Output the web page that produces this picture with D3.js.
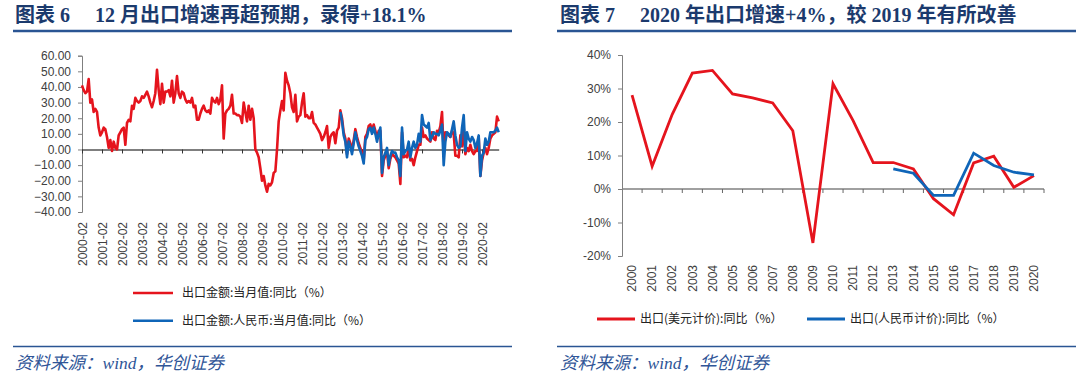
<!DOCTYPE html>
<html>
<head>
<meta charset="utf-8">
<script src="https://cdn.jsdelivr.net/npm/d3@7"></script>
<style>
  body { margin: 0; background: #fff; }
  svg { display: block; }
</style>
</head>
<body>
<svg width="1080" height="380"></svg>
<script>
// ---- data ----
// chart 6: monthly export yoy (%), usd series starts 2000-02, rmb series starts 2013-01
const usdStartYear = 2000, usdStartMonth = 2;
const rmbStartYear = 2013, rmbStartMonth = 1;
const usdMonthly = [
  41, 38, 36, 37, 45, 30, 32, 24, 26, 24, 14,          // 2000 feb-dec
  9, 11, 14, 13, 8, 1, 6, -1, 5, 1, 0, 9,               // 2001
  11, 13, 14, 3, 17, 19, 18, 28, 26, 33, 31, 30,        // 2002
  31, 34, 33, 35, 37, 34, 30, 27, 31, 36, 51, 38,       // 2003
  29, 42, 30, 37, 37, 38, 34, 44, 30, 36, 47, 36,       // 2004
  33, 37, 36, 32, 30, 31, 30, 33, 27, 28, 19, 19,       // 2005
  23, 26, 28, 25, 24, 25, 23, 33, 31, 30, 33, 29,       // 2006
  32, 41, 7, 23, 25, 26, 28, 35, 23, 23, 22, 22,        // 2007
  21, 17, 30, 24, 18, 28, 19, 26, 20, 0, -2, -5,        // 2008
  -12, -20, -17, -23, -27, -22, -23, -21, -15, -14, 0, 18, // 2009
  25, 31, 25, 49, 44, 41, 36, 27, 24, 35, 18, 21,       // 2010
  22, 30, 36, 21, 22, 20, 20, 24, 17, 16, 14, 12,       // 2011
  10, 6, 8, 11, 15, 1, 8, 10, 11, 4, 12, 14,            // 2012
  25, 20, 11, 7, -3, 7, 4, -1, 6, 13, 8, 4,             // 2013
  1, -2, -7, 8, 10, 15, 16, 12, 16, 12, 7, 12,          // 2014
  12, -17, -7, -4, -1, -12, -6, -3, -4, -5, -7, -9,     // 2015
  -22, 11, -5, -4, -5, 2, -7, -6, -10, -5, -1, 3,       // 2016
  3, 14, 8, 9, 7, 6, 5, 11, 7, 6, 12, 11,               // 2017
  15, 24, -2, 11, 10, 9, 8, 12, 10, -4, -4, -5,         // 2018
  9, 2, 14, -3, 1, -1, 3, -1, -3, -1, -1, 8,            // 2019
  -17, -7, -2, 1, -3, 1, 7, 9, 10, 11, 21, 18           // 2020
];
const rmbMonthly = [
  24, 18, 9, 5, -5, 5, 2, -3, 4, 11, 6, 2,              // 2013
  -1, -4, -9, 6, 8, 13, 14, 10, 14, 10, 5, 10,          // 2014
  14, -15, -5, -2, 1, -10, -4, -1, -2, -2, -5, -7,      // 2015
  -17, 14, -3, -1, 0, 5, -5, 1, 5, 1, 3, 10,            // 2016
  5, 22, 16, 15, 14, 17, 6, 8, 11, 10, 10, 9,           // 2017
  12, 16, -10, 5, 11, 10, 8, 13, 18, 9, 3, 1,           // 2018
  2, 14, 22, -1, 11, 7, 5, 8, 6, 1, 4, 9,               // 2019
  -17, -4, -2, 7, 3, 5, 11, 11, 11, 12, 14, 11          // 2020
];
const leftYTicks = [-40, -30, -20, -10, 0, 10, 20, 30, 40, 50, 60];
const leftXTickLabels = ["2000-02", "2001-02", "2002-02", "2003-02", "2004-02", "2005-02", "2006-02",
  "2007-02", "2008-02", "2009-02", "2010-02", "2011-02", "2012-02", "2013-02", "2014-02",
  "2015-02", "2016-02", "2017-02", "2018-02", "2019-02", "2020-02"];
const leftSeriesNames = ["出口金额:当月值:同比（%）", "出口金额:人民币:当月值:同比（%）"];

// chart 7: yearly export yoy (%)
const years = ["2000", "2001", "2002", "2003", "2004", "2005", "2006", "2007", "2008", "2009", "2010",
  "2011", "2012", "2013", "2014", "2015", "2016", "2017", "2018", "2019", "2020"];
const usdYearly = [28.0, 6.8, 22.3, 34.6, 35.4, 28.4, 27.2, 25.7, 17.4, -16.1, 31.4,
  20.4, 7.9, 7.9, 6.0, -2.9, -7.7, 7.8, 9.8, 0.5, 4.0];
const rmbYears = ["2013", "2014", "2015", "2016", "2017", "2018", "2019", "2020"];
const rmbYearly = [6.0, 4.7, -1.9, -1.9, 10.7, 7.0, 5.0, 4.2];
const rightYTicks = [-20, -10, 0, 10, 20, 30, 40];
const rightSeriesNames = ["出口(美元计价):同比（%）", "出口(人民币计价):同比（%）"];

const titles = ["图表 6     12 月出口增速再超预期，录得+18.1%", "图表 7     2020 年出口增速+4%，较 2019 年有所改善"];
const sourceText = "资料来源：wind，华创证券";

// ---- styles ----
const RED = "#e5141d", BLUE = "#0f65b8", NAVY = "#1b3a6d", RULE = "#2a5593";
const AXIS = "#7f7f7f", LABEL = "#404040";
const latinFont = "'Liberation Sans', Arial, 'Noto Sans CJK SC', sans-serif";
const cjkFont = "'Noto Sans CJK SC', 'Liberation Sans', sans-serif";

const svg = d3.select("svg");

// month index counted from 2000-02
const monthIndex = (yr, mo) => (yr - usdStartYear) * 12 + (mo - usdStartMonth);
const usdData = usdMonthly.map((v, i) => ({ m: i, v: v }));
const rmbOffset = monthIndex(rmbStartYear, rmbStartMonth);
const rmbData = rmbMonthly.map((v, i) => ({ m: rmbOffset + i, v: v }));

// ---- headers and footers for both panels ----
const panels = [
  { x0: 13, x1: 512, tx: 15 },
  { x0: 557, x1: 1076, tx: 560 }
];
panels.forEach((p, i) => {
  svg.append("text")
    .attr("x", p.tx).attr("y", 22)
    .style("white-space", "pre")
    .style("font-family", "'Liberation Serif', 'Noto Sans CJK SC', serif")
    .style("font-weight", "bold")
    .style("font-size", "20px")
    .attr("fill", NAVY)
    .text(titles[i]);
  svg.append("line")
    .attr("x1", p.x0).attr("x2", p.x1).attr("y1", 31).attr("y2", 31)
    .attr("stroke", RULE).attr("stroke-width", 2.5);
  svg.append("line")
    .attr("x1", p.x0).attr("x2", p.x1).attr("y1", 346.5).attr("y2", 346.5)
    .attr("stroke", RULE).attr("stroke-width", 1.5);
  svg.append("text")
    .attr("x", p.tx).attr("y", 369)
    .style("font-family", "'Liberation Serif', 'Noto Sans CJK SC', serif")
    .style("font-style", "italic")
    .style("font-size", "17.5px")
    .attr("fill", "#2f5597")
    .text(sourceText);
});

// ---- chart 6 ----
const x = d3.scaleLinear().domain([0, usdMonthly.length - 1]).range([82, 498.7]);
const y = d3.scaleLinear().domain([-40, 60]).range([212, 55.7]);

const yAxis = svg.append("g")
  .attr("transform", "translate(82,0)")
  .call(d3.axisLeft(y).tickValues(leftYTicks).tickFormat(d3.format(".2f")).tickSize(4).tickPadding(7));
yAxis.selectAll("path, line").attr("stroke", AXIS);
yAxis.selectAll("text").style("font-family", latinFont).style("font-size", "12px").attr("fill", LABEL);

const xTickVals = leftXTickLabels.map(s => monthIndex(+s.slice(0, 4), +s.slice(5)));
const zeroAxis = svg.append("g")
  .attr("transform", `translate(0,${y(0)})`)
  .call(d3.axisBottom(x).tickValues(xTickVals).tickSize(4).tickSizeOuter(0).tickFormat(""));
zeroAxis.select(".domain").attr("stroke", "#000").attr("stroke-width", 1.2);
zeroAxis.selectAll("line").attr("stroke", "#333");

const xLabels = svg.append("g")
  .attr("transform", `translate(0,${y(-40)})`)
  .call(d3.axisBottom(x).tickValues(xTickVals).tickSize(0)
    .tickFormat((d, i) => leftXTickLabels[i]));
xLabels.select(".domain").remove();
xLabels.selectAll("text")
  .attr("transform", "rotate(-90)")
  .attr("text-anchor", "end")
  .attr("x", -10).attr("y", 0).attr("dy", "0.35em")
  .style("font-family", latinFont).style("font-size", "12px").attr("fill", LABEL);

const line = d3.line().x(d => x(d.m)).y(d => y(d.v));
svg.append("path").datum(usdData)
  .attr("fill", "none").attr("stroke", RED).attr("stroke-width", 2.6)
  .attr("stroke-linejoin", "round").attr("d", line);
svg.append("path").datum(rmbData)
  .attr("fill", "none").attr("stroke", BLUE).attr("stroke-width", 2.6)
  .attr("stroke-linejoin", "round").attr("d", line);

// legend, stacked
const leftLegend = svg.append("g").selectAll("g")
  .data(leftSeriesNames).join("g")
  .attr("transform", (d, i) => `translate(133,${293 + i * 27.7})`);
leftLegend.append("line")
  .attr("x1", 0).attr("x2", 40)
  .attr("stroke", (d, i) => i ? BLUE : RED).attr("stroke-width", 2.6);
leftLegend.append("text")
  .attr("x", 49).attr("dy", "0.35em")
  .style("font-family", cjkFont).style("font-size", "12px").attr("fill", "#222")
  .text(d => d);

// ---- chart 7 ----
const xb = d3.scaleBand().domain(years).range([622, 1044]);
const y2 = d3.scaleLinear().domain([-20, 40]).range([256, 55]);

const y2Axis = svg.append("g")
  .attr("transform", "translate(622,0)")
  .call(d3.axisLeft(y2).tickValues(rightYTicks).tickFormat(d => d + "%").tickSize(4).tickPadding(7));
y2Axis.selectAll("path, line").attr("stroke", AXIS);
y2Axis.selectAll("text").style("font-family", latinFont).style("font-size", "12px").attr("fill", LABEL);

const zero2 = svg.append("g").attr("transform", `translate(0,${y2(0)})`);
zero2.append("line")
  .attr("x1", xb.range()[0]).attr("x2", xb.range()[1])
  .attr("stroke", "#808080").attr("stroke-width", 1.5);
zero2.selectAll(".tk").data(years).join("line")
  .attr("class", "tk")
  .attr("x1", d => xb(d) + xb.bandwidth()).attr("x2", d => xb(d) + xb.bandwidth())
  .attr("y1", 0).attr("y2", 4)
  .attr("stroke", "#666");

const yearLabels = svg.append("g")
  .attr("transform", `translate(0,${y2(-20)})`)
  .call(d3.axisBottom(xb).tickSize(0));
yearLabels.select(".domain").remove();
yearLabels.selectAll("text")
  .attr("transform", "rotate(-90)")
  .attr("text-anchor", "end")
  .attr("x", -9).attr("y", 0).attr("dy", "0.35em")
  .style("font-family", latinFont).style("font-size", "12px").attr("fill", LABEL);

const line2 = d3.line().x(d => xb(d.year) + xb.bandwidth() / 2).y(d => y2(d.v));
svg.append("path").datum(years.map((yr, i) => ({ year: yr, v: usdYearly[i] })))
  .attr("fill", "none").attr("stroke", RED).attr("stroke-width", 2.8)
  .attr("stroke-linejoin", "miter").attr("d", line2);
svg.append("path").datum(rmbYears.map((yr, i) => ({ year: yr, v: rmbYearly[i] })))
  .attr("fill", "none").attr("stroke", BLUE).attr("stroke-width", 2.8)
  .attr("stroke-linejoin", "miter").attr("d", line2);

// legend, side by side
const rightLegend = svg.append("g").selectAll("g")
  .data(rightSeriesNames).join("g")
  .attr("transform", (d, i) => `translate(${597 + i * 210},319)`);
rightLegend.append("line")
  .attr("x1", 0).attr("x2", 38)
  .attr("stroke", (d, i) => i ? BLUE : RED).attr("stroke-width", 2.8);
rightLegend.append("text")
  .attr("x", 43).attr("dy", "0.35em")
  .style("font-family", cjkFont).style("font-size", "12px").attr("fill", "#222")
  .text(d => d);
</script>
</body>
</html>
